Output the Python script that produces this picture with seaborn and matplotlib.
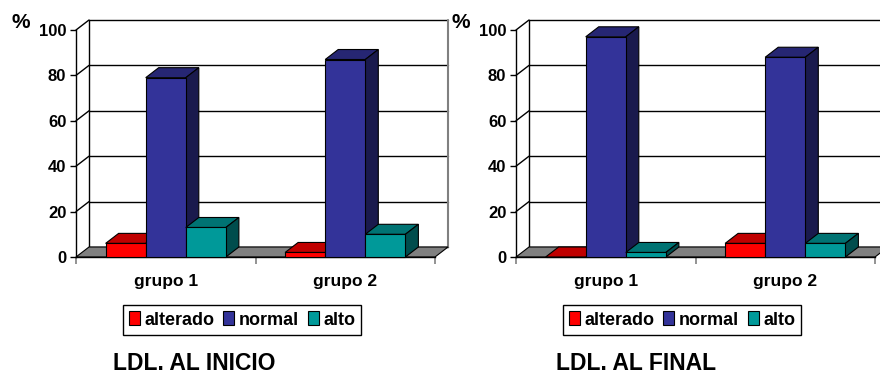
import numpy as np
import pandas as pd
import matplotlib
matplotlib.use("Agg")
import matplotlib.pyplot as plt
import seaborn as sns
from matplotlib.patches import Polygon, Patch

# Percentages per LDL level, by group
grupos = ["grupo 1", "grupo 2"]
niveles = ["alterado", "normal", "alto"]

inicio_alterado = [6, 2]
inicio_normal = [79, 87]
inicio_alto = [13, 10]

final_alterado = [0, 6]
final_normal = [97, 88]
final_alto = [2, 6]

titulos = ["LDL. AL INICIO", "LDL. AL FINAL"]
yticks = [0, 20, 40, 60, 80, 100]

front = {"alterado": "#FF0000", "normal": "#333399", "alto": "#009999"}
top = {"alterado": "#C00000", "normal": "#262673", "alto": "#007373"}
side = {"alterado": "#800000", "normal": "#1A1A4D", "alto": "#004D4D"}

sns.set_style("white")
plt.rcParams["font.family"] = ["Liberation Sans", "DejaVu Sans"]
plt.rcParams["font.weight"] = "bold"
plt.rcParams["text.color"] = "black"
plt.rcParams["xtick.color"] = "black"
plt.rcParams["ytick.color"] = "black"
plt.rcParams["axes.labelcolor"] = "black"

W, H = 880, 377
DX, DY = 13.0, 10.0  # depth of the pseudo-3D box, in pixels

fig = plt.figure(figsize=(W / 100, H / 100), dpi=100)


def rect(x0, y_top, w, h):
    return [x0 / W, 1 - (y_top + h) / H, w / W, h / H]


def long_frame(alterado, normal, alto):
    rows = []
    for nivel, vals in zip(niveles, [alterado, normal, alto]):
        for g, v in zip(grupos, vals):
            rows.append({"grupo": g, "nivel": nivel, "pct": v})
    return pd.DataFrame(rows)


def poly(ax, pts, **kw):
    data = ax.transData.inverted().transform(np.asarray(pts))
    p = Polygon(data, closed=True, clip_on=False, **kw)
    ax.add_patch(p)
    return p


def line(ax, pts, **kw):
    data = ax.transData.inverted().transform(np.asarray(pts))
    ax.plot(data[:, 0], data[:, 1], clip_on=False, **kw)


def draw_chart(ax, df, x_left):
    sns.barplot(data=df, x="grupo", y="pct", hue="nivel", order=grupos,
                hue_order=niveles, palette=front, saturation=1, width=0.67,
                gap=0, edgecolor="black", linewidth=0.8, legend=False,
                errorbar=None, ax=ax)
    ax.set_xlim(-0.5, 1.5)
    ax.set_ylim(0, 100)
    ax.set_xlabel("")
    ax.set_ylabel("")
    ax.set_facecolor("none")
    for s in ["top", "right"]:
        ax.spines[s].set_visible(False)
    for s in ["left", "bottom"]:
        ax.spines[s].set_color("black")
        ax.spines[s].set_linewidth(1.0)

    T = ax.transData.transform
    d = np.array([DX, DY])

    # back wall grid, wall edges and left wall diagonals
    for v in yticks:
        a, b = T((-0.5, v)), T((1.5, v))
        line(ax, [a + d, b + d], color="black", lw=1.0, zorder=1)
        if v > 0:
            line(ax, [a, a + d], color="black", lw=1.0, zorder=1)
    line(ax, [T((-0.5, 0)) + d, T((-0.5, 100)) + d], color="black", lw=1.0, zorder=1)
    line(ax, [T((1.5, 0)) + d, T((1.5, 100)) + d], color="#808080", lw=1.5, zorder=1)

    # floor
    f0, f1 = T((-0.5, 0)), T((1.5, 0))
    poly(ax, [f0, f1, f1 + d, f0 + d], facecolor="#808080", edgecolor="black",
         lw=0.8, zorder=2)

    # top and side faces of each bar, drawn left to right so nearer faces cover
    bars = sorted(ax.patches[: len(df)], key=lambda p: p.get_x())
    inv = {matplotlib.colors.to_hex(c): k for k, c in front.items()}
    for k, p in enumerate(bars):
        nivel = inv[matplotlib.colors.to_hex(p.get_facecolor())]
        x0, h = p.get_x(), p.get_height()
        x1 = x0 + p.get_width()
        z = 3 + 0.1 * k
        p.set_zorder(z + 0.05)
        p.set_clip_on(False)
        a, b = T((x0, h)), T((x1, h))
        c = T((x1, 0))
        poly(ax, [a, b, b + d, a + d], facecolor=top[nivel], edgecolor="black",
             lw=0.8, zorder=z)
        if h > 0:
            poly(ax, [c, b, b + d, c + d], facecolor=side[nivel],
                 edgecolor="black", lw=0.8, zorder=z)

    ax.set_yticks(yticks)
    ax.set_yticklabels([str(v) for v in yticks], fontsize=12, fontweight="bold")
    ax.tick_params(axis="y", length=4, width=1, color="black", pad=3, left=True)
    ax.set_xticks([0, 1])
    ax.set_xticklabels(grupos, fontsize=12.5, fontweight="bold")
    ax.tick_params(axis="x", which="major", length=0, pad=12)
    ax.set_xticks([-0.5, 0.5, 1.5], minor=True)
    ax.tick_params(axis="x", which="minor", length=5, width=1.2,
                   color="#808080", bottom=True)

    fig.text((x_left - 55) / W, 1 - 22 / H, "%", fontsize=15, fontweight="bold",
             ha="center", va="center")

    handles = [Patch(facecolor=front[n], edgecolor="black", lw=0.8) for n in niveles]
    fig.legend(handles, niveles, loc="center",
               bbox_to_anchor=((x_left + 166) / W, 1 - 320 / H), ncol=3,
               frameon=True, fancybox=False, edgecolor="black", framealpha=1,
               prop={"size": 13, "weight": "bold"}, handlelength=0.6,
               handleheight=0.8, handletextpad=0.25, columnspacing=0.5,
               borderpad=0.35, borderaxespad=0)


ax1 = fig.add_axes(rect(76, 30, 359, 227))
ax2 = fig.add_axes(rect(516, 30, 359, 227))

draw_chart(ax1, long_frame(inicio_alterado, inicio_normal, inicio_alto), 76)
draw_chart(ax2, long_frame(final_alterado, final_normal, final_alto), 516)

fig.text(113 / W, 1 - 364 / H, titulos[0], fontsize=16.5, fontweight="bold",
         ha="left", va="center")
fig.text(556 / W, 1 - 364 / H, titulos[1], fontsize=16.5, fontweight="bold",
         ha="left", va="center")

fig.savefig("out.png", dpi=100, facecolor="white")
